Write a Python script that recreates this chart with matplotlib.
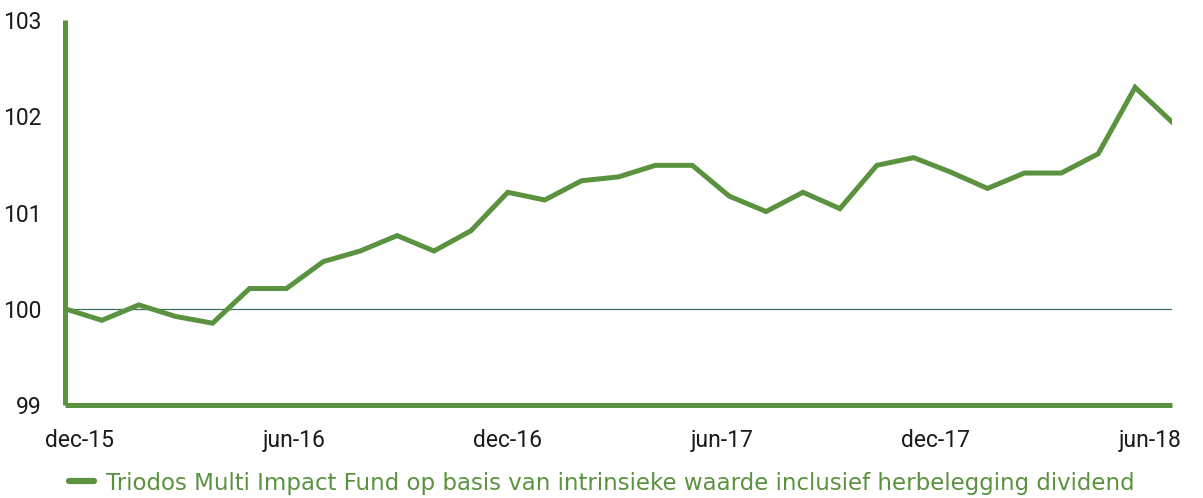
import matplotlib.pyplot as plt
from matplotlib.lines import Line2D

# monthly index values, dec-15 .. jun-18
months = ['dec-15', 'jan-16', 'feb-16', 'mrt-16', 'apr-16', 'mei-16', 'jun-16',
          'jul-16', 'aug-16', 'sep-16', 'okt-16', 'nov-16', 'dec-16',
          'jan-17', 'feb-17', 'mrt-17', 'apr-17', 'mei-17', 'jun-17',
          'jul-17', 'aug-17', 'sep-17', 'okt-17', 'nov-17', 'dec-17',
          'jan-18', 'feb-18', 'mrt-18', 'apr-18', 'mei-18', 'jun-18']
values = [100.00, 99.88, 100.04, 99.92, 99.85, 100.21, 100.21,
          100.49, 100.60, 100.76, 100.60, 100.81, 101.21,
          101.13, 101.33, 101.37, 101.49, 101.49, 101.17,
          101.01, 101.21, 101.04, 101.49, 101.57, 101.42,
          101.25, 101.41, 101.41, 101.61, 102.30, 101.94]
tick_labels = ['dec-15', 'jun-16', 'dec-16', 'jun-17', 'dec-17', 'jun-18']
series_name = 'Triodos Multi Impact Fund op basis van intrinsieke waarde inclusief herbelegging dividend'

green = '#5b9240'
plt.rcParams['font.family'] = ['Roboto', 'DejaVu Sans']

fig = plt.figure(figsize=(12.03, 4.98), dpi=100)
ax = fig.add_axes([65 / 1203, 93 / 498, 1107 / 1203, 385 / 498])

x = list(range(len(values)))
ax.axhline(100, color='#3f6e6a', linewidth=0.9, zorder=1)
ax.plot(x, values, color=green, linewidth=3.6, solid_joinstyle='miter', zorder=3)

ax.set_xlim(0, len(values) - 1)
ax.set_ylim(99, 103)
ax.set_yticks([99, 100, 101, 102, 103])

# labels are spread a bit narrower than the points in the original
step = 5.8
ax.set_xticks([0.4 + i * step for i in range(len(tick_labels))])
ax.set_xticklabels(tick_labels)

ax.tick_params(axis='both', length=0, labelsize=16.5, labelcolor='#1a1a1a')
ax.tick_params(axis='x', pad=17)
ax.tick_params(axis='y', pad=17)

for s in ['top', 'right']:
    ax.spines[s].set_visible(False)
for s in ['left', 'bottom']:
    ax.spines[s].set_color(green)
    ax.spines[s].set_linewidth(3.6)
    ax.spines[s].set_capstyle('butt')

handle = Line2D([0], [0], color=green, linewidth=4.5, solid_capstyle='round')
fig.legend([handle], [series_name], loc='center left',
           bbox_to_anchor=(48 / 1203, 15 / 498), frameon=False,
           handlelength=1.1, handletextpad=0.55,
           prop={'family': 'DejaVu Sans', 'size': 16.5},
           labelcolor=green)

fig.savefig('out.png', dpi=100)
